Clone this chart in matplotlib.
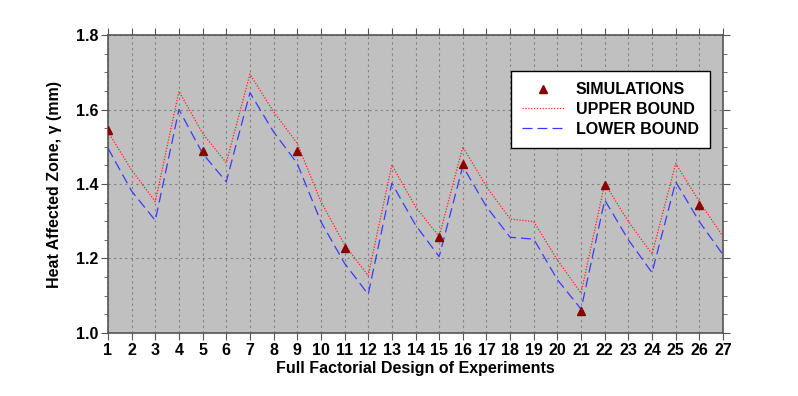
import numpy as np
import matplotlib.pyplot as plt
from matplotlib.ticker import MultipleLocator

plt.rcParams['font.family'] = ['Liberation Sans', 'DejaVu Sans']

# experiment number
runs = np.arange(1, 28)

upper = [1.540, 1.437, 1.353, 1.649, 1.536, 1.457, 1.695, 1.594, 1.509,
         1.353, 1.237, 1.154, 1.451, 1.339, 1.259, 1.500, 1.393, 1.306,
         1.299, 1.196, 1.107, 1.402, 1.299, 1.212, 1.455, 1.353, 1.259]
lower = [1.496, 1.381, 1.302, 1.600, 1.482, 1.406, 1.645, 1.540, 1.455,
         1.299, 1.187, 1.104, 1.402, 1.290, 1.205, 1.448, 1.339, 1.257,
         1.252, 1.143, 1.064, 1.357, 1.250, 1.162, 1.406, 1.299, 1.210]

sim_runs = [1, 5, 9, 11, 15, 16, 21, 22, 26]
sim_vals = [1.546, 1.489, 1.489, 1.228, 1.257, 1.455, 1.058, 1.397, 1.344]

fig = plt.figure(figsize=(7.98, 3.96), dpi=100)
ax = fig.add_axes([108/798, 1-333/396, (723-108)/798, (333-35)/396])
ax.set_facecolor('#c0c0c0')

ax.plot(sim_runs, sim_vals, linestyle='none', marker='^', color='#8b0000',
        markersize=6, label='SIMULATIONS', zorder=4)
ax.plot(runs, upper, color='#ff2020', linestyle=(0, (1.0, 1.3)), linewidth=0.9,
        label='UPPER BOUND', zorder=3)
ax.plot(runs, lower, color='#3a3aff', linestyle=(0, (8, 4)), linewidth=0.9,
        label='LOWER BOUND', zorder=3)

ax.set_xlim(1, 27)
ax.set_ylim(1.0, 1.8)
ax.set_xticks(runs)
ax.yaxis.set_major_locator(MultipleLocator(0.2))
ax.yaxis.set_minor_locator(MultipleLocator(0.05))
ax.yaxis.set_major_formatter(plt.FuncFormatter(lambda v, p: '%.1f' % v))
ax.tick_params(axis='both', which='both', direction='out', top=True, right=True,
               labeltop=False, labelright=False, colors='#555555', labelcolor='black')
ax.tick_params(axis='both', which='major', length=5, labelsize=11.5, pad=2)
ax.tick_params(axis='both', which='minor', length=3)
for lab in ax.get_xticklabels() + ax.get_yticklabels():
    lab.set_fontweight('bold')

ax.grid(True, which='major', color='#808080', linestyle=(0, (2, 3)), linewidth=0.8)
for s in ax.spines.values():
    s.set_color('#555555')
    s.set_linewidth(1.2)

ax.set_xlabel('Full Factorial Design of Experiments', fontsize=11.5,
              fontweight='bold', labelpad=2)
ax.set_ylabel('Heat Affected Zone, γ (mm)', fontsize=11.5, fontweight='bold',
              labelpad=10)

leg = ax.legend(loc='upper left', bbox_to_anchor=(0.655, 0.879), borderaxespad=0,
                fancybox=False, framealpha=1, edgecolor='black',
                prop={'weight': 'bold', 'size': 11.5}, handlelength=2.6,
                borderpad=0.7, labelspacing=0.3, handletextpad=0.75)
leg.get_frame().set_linewidth(1.0)

fig.savefig('out.png', dpi=100)
